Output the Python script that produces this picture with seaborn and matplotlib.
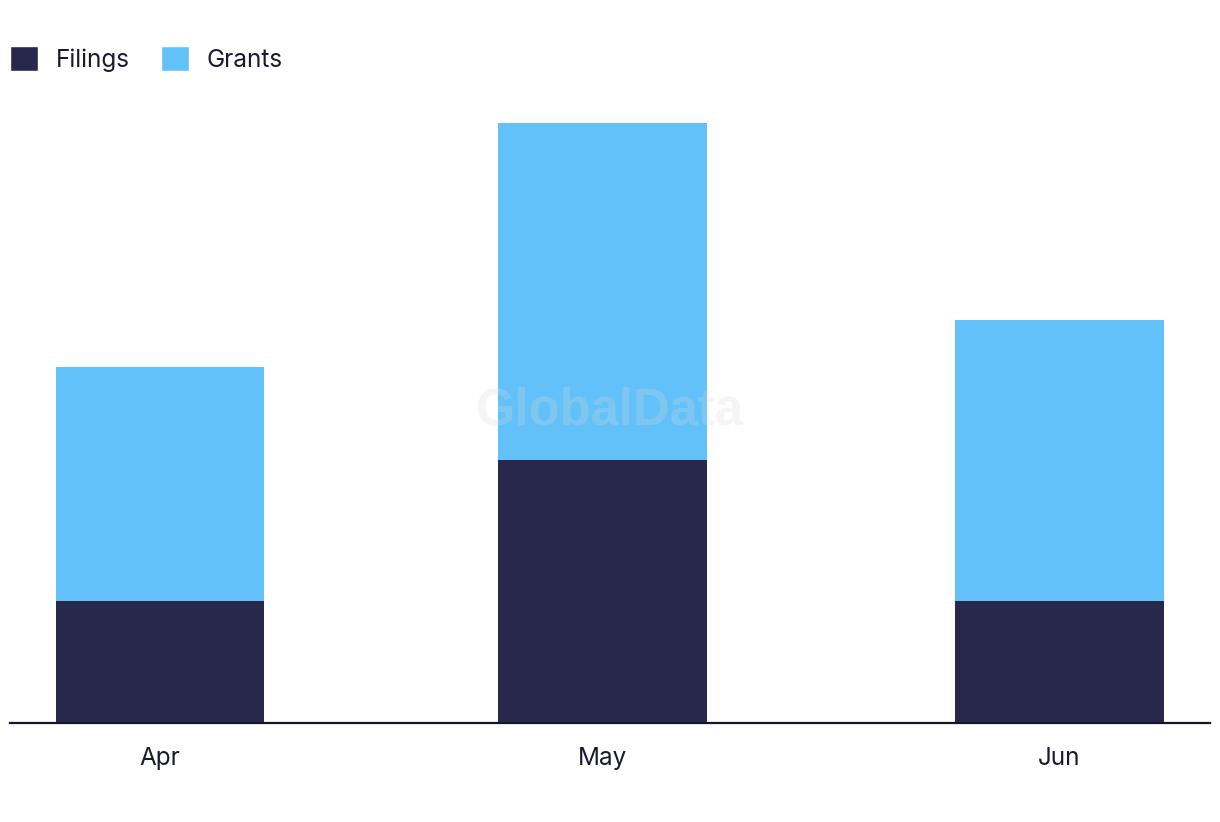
import matplotlib
matplotlib.use("Agg")
import matplotlib.pyplot as plt
import seaborn as sns
import pandas as pd
from matplotlib.patches import Patch

months = ["Apr", "May", "Jun"]
day_offset = [0, 30, 61]  # days from Apr 1 to each month start
filings = [13, 28, 13]
grants = [25, 36, 30]

c_fil = "#27284C"
c_gr = "#62C1F9"

sns.set_theme(style="white")
plt.rcParams["font.family"] = ["Inter", "DejaVu Sans"]

df = pd.DataFrame({"month": months, "day": day_offset,
                   "Filings": filings, "Grants": grants})
df["Total"] = df["Filings"] + df["Grants"]

fig = plt.figure(figsize=(12.2, 8.22), dpi=100)
ax = fig.add_axes([10 / 1220, 1 - 723 / 822, 1200 / 1220, 623 / 822])

sns.barplot(data=df, x="day", y="Total", native_scale=True, color=c_gr,
            width=0.472, saturation=1, ax=ax, errorbar=None)
sns.barplot(data=df, x="day", y="Filings", native_scale=True, color=c_fil,
            width=0.472, saturation=1, ax=ax, errorbar=None)

for p in ax.patches:
    p.set_linewidth(0)

ax.set_xlim(-10.17, 71.2)
ax.set_ylim(0, 66.45)
ax.set_xticks(day_offset)
ax.set_xticklabels(months, fontsize=17.5, color="#1a1a2e")
ax.tick_params(axis="x", length=0, pad=17)
ax.set_yticks([])
ax.set_xlabel("")
ax.set_ylabel("")
for s in ["top", "right", "left"]:
    ax.spines[s].set_visible(False)
ax.spines["bottom"].set_color("#14142a")
ax.spines["bottom"].set_linewidth(1.6)

ax.text(0.5, 1 - 411 / 822, "GlobalData", transform=fig.transFigure, ha="center",
        va="center", fontsize=36.5, fontweight="bold", color="#d8d8d8",
        alpha=0.25, family=["Liberation Sans", "DejaVu Sans"])

handles = [Patch(facecolor=c_fil, label="Filings"),
           Patch(facecolor=c_gr, label="Grants")]
fig.legend(handles=handles, loc="center left", bbox_to_anchor=(10 / 1220, 1 - 59 / 822),
           ncol=2, frameon=False, fontsize=17.5, handlelength=1.17, handleheight=1.17,
           handletextpad=0.7, columnspacing=1.3, labelcolor="#1a1a2e",
           borderaxespad=0, borderpad=0)

fig.savefig("out.png", dpi=100)
